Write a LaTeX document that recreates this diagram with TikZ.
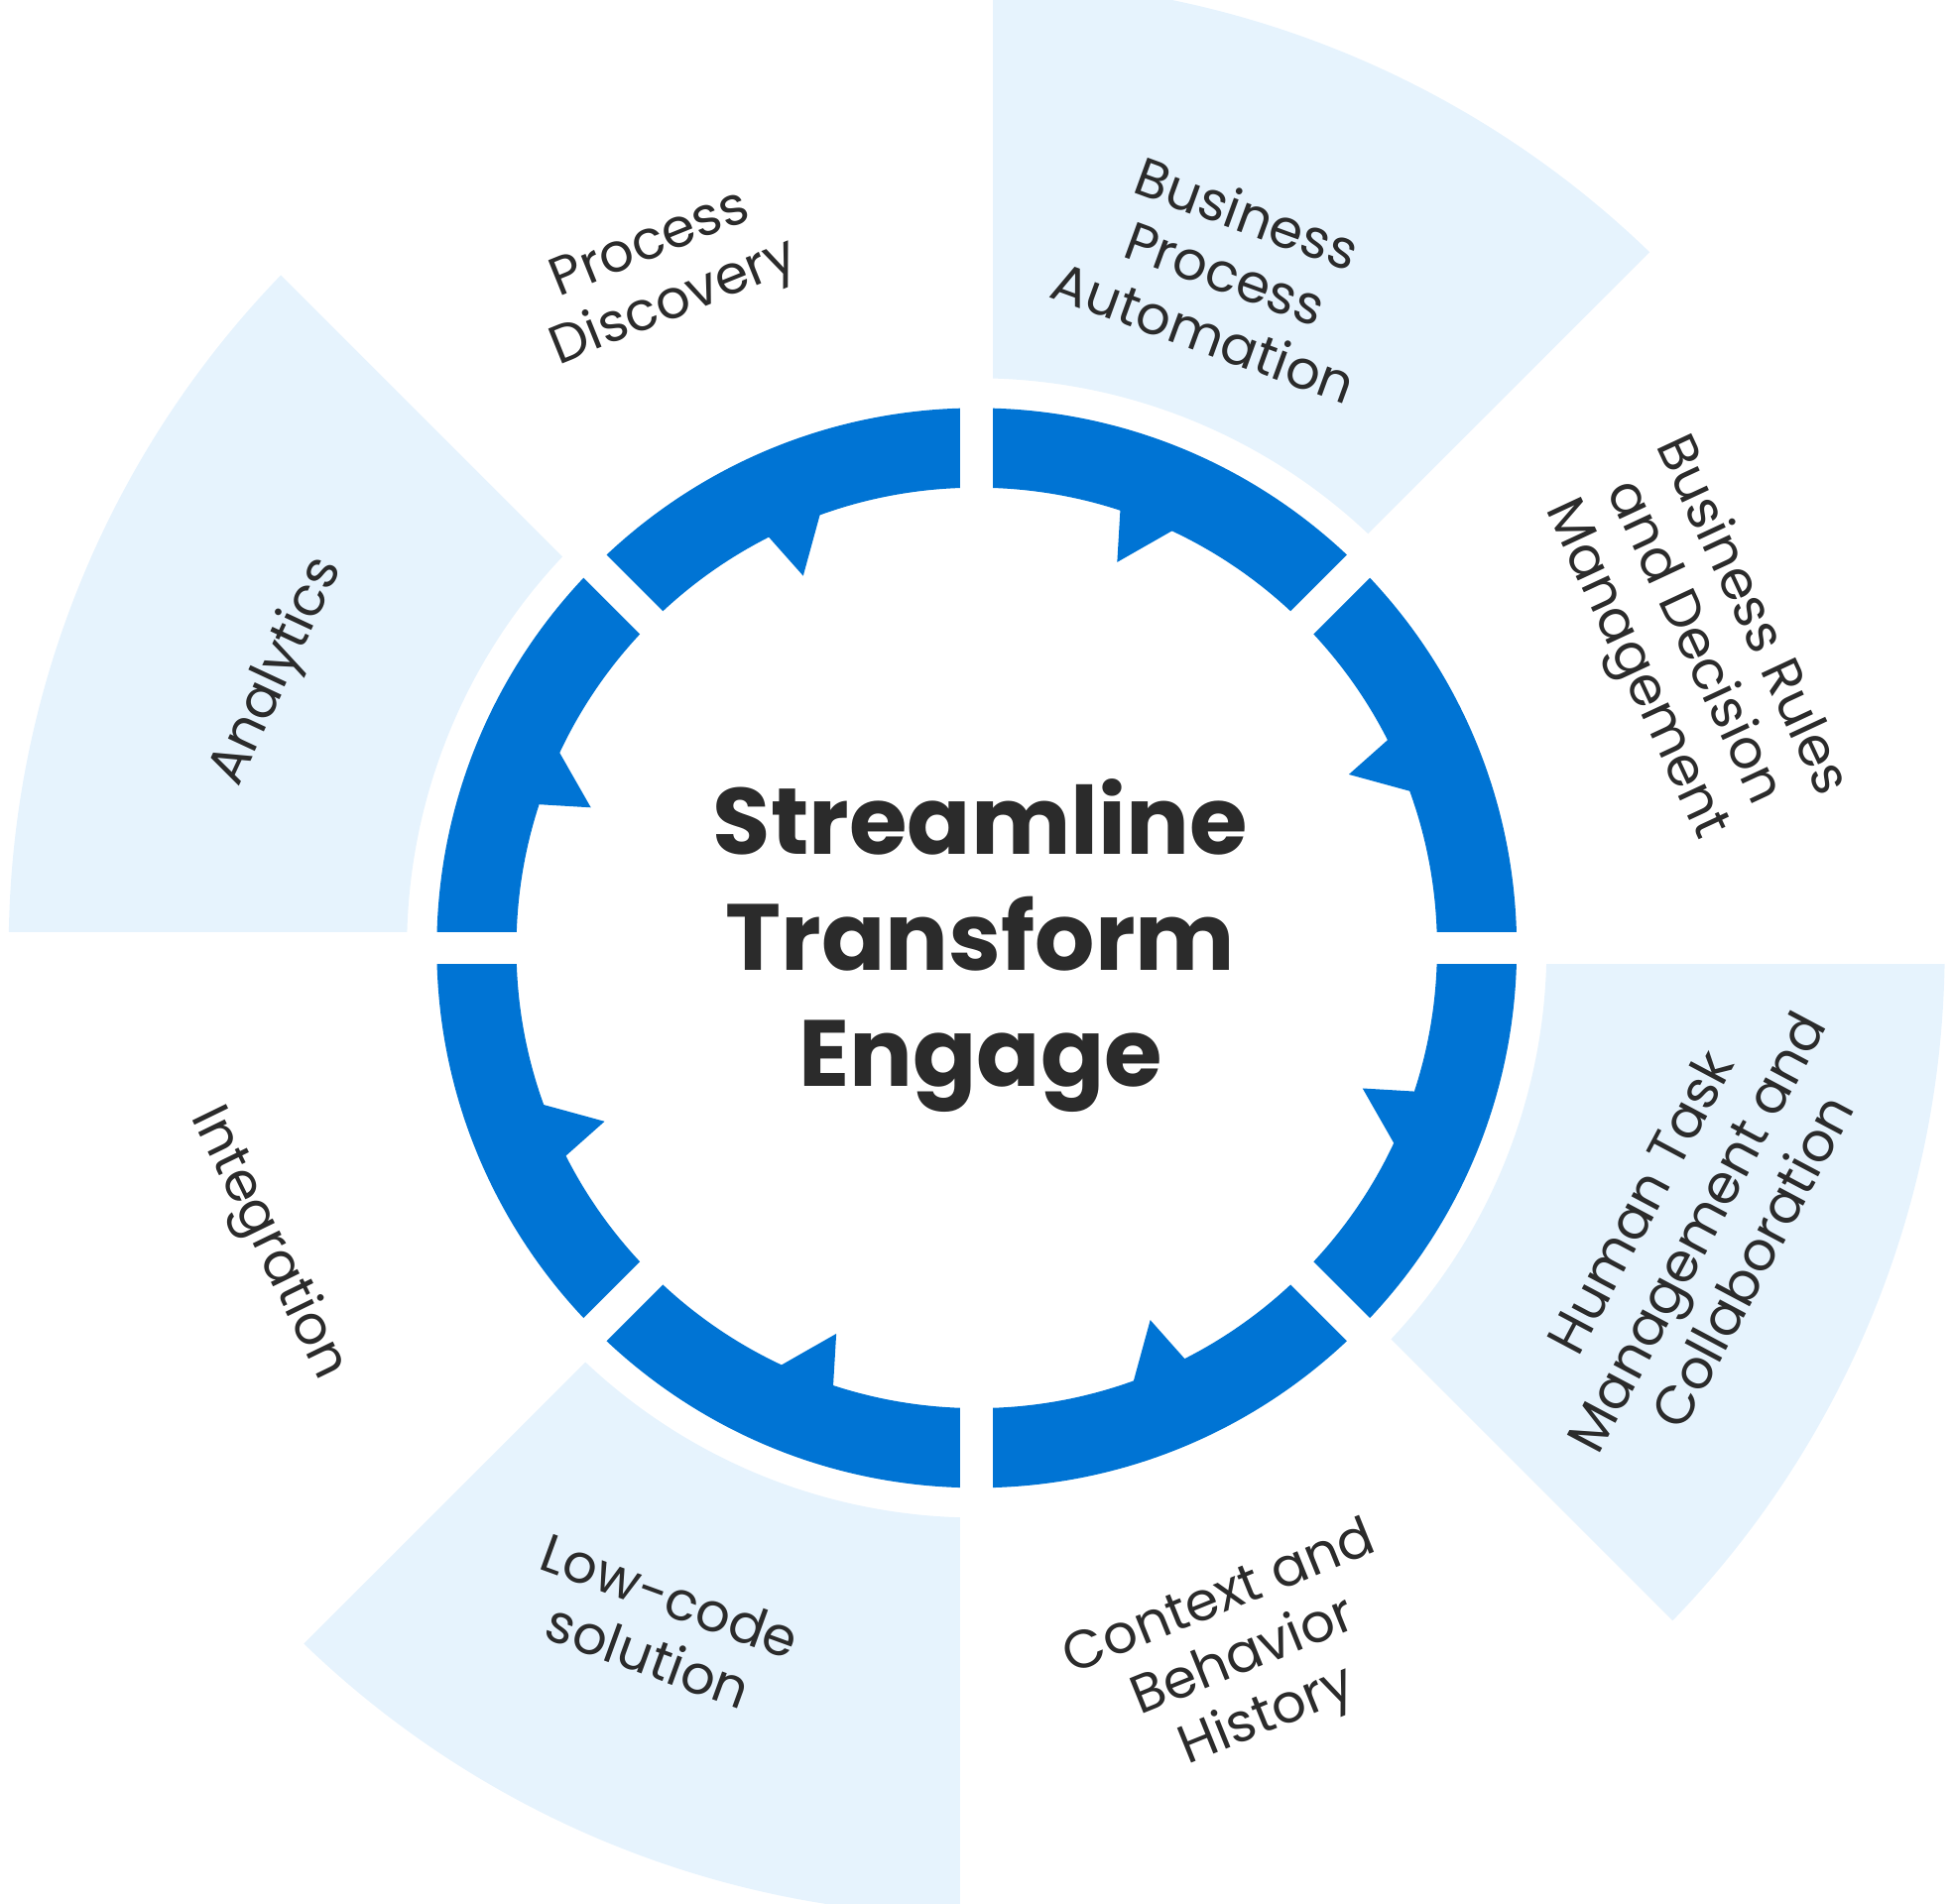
\documentclass[tikz,border=0pt]{standalone}
\usepackage{fontspec}
\setmainfont{Poppins}
\definecolor{ringblue}{HTML}{0074D4}
\definecolor{lightblue}{HTML}{E6F3FD}
\definecolor{txt}{HTML}{2B2B2B}
\begin{document}
\begin{tikzpicture}[x=0.01cm,y=0.01cm,
  lab/.style={align=center,text=txt,font=\fontsize{12.3}{14.5}\selectfont},
  gap/.style={white,line width=0.26cm}]
\useasboundingbox (-785,-768) rectangle (783,762);
\clip (-785,-768) rectangle (783,762);
% light sectors
\foreach \a in {45,135,225,315}{
  \fill[lightblue] (\a:458) -- (\a:778) arc[start angle=\a,end angle=\a+45,radius=778] -- (\a+45:458) arc[start angle=\a+45,end angle=\a,radius=458] -- cycle;
}
% ring
\fill[ringblue,even odd rule] (0,0) circle[radius=434] (0,0) circle[radius=370];
\foreach \k in {0,...,7}{
  \pgfmathsetmacro{\s}{90-45*\k}
  \fill[ringblue] (\s-18:374) -- (\s-20:330) -- (\s-25.5:374) -- cycle;
}
% gaps
\foreach \a in {0,45,...,315}{
  \draw[gap] (\a:300) -- (\a:820);
}
\node[font=\bfseries\fontsize{21.5}{26.5}\selectfont,text=txt,align=center] (c) at (3,2) {Streamline\\Transform\\Engage};
\node[lab,rotate=22] (pd) at (-252,540) {Process\\Discovery};
\node[lab,rotate=-20] (bpa) at (200,543) {Business\\Process\\Automation};
\node[lab,rotate=-65] (br) at (575,245) {Business Rules\\and Decision\\Management};
\node[lab,rotate=62] (ht) at (578,-228) {Human Task\\Management and\\Collaboration};
\node[lab,rotate=22] (cb) at (215,-572) {Context and\\Behavior\\History};
\node[lab,rotate=-20] (lc) at (-255,-545) {Low-code\\solution};
\node[lab,rotate=-64] (in) at (-570,-238) {Integration};
\node[lab,rotate=65] (an) at (-562,222) {Analytics};
\end{tikzpicture}
\end{document}
